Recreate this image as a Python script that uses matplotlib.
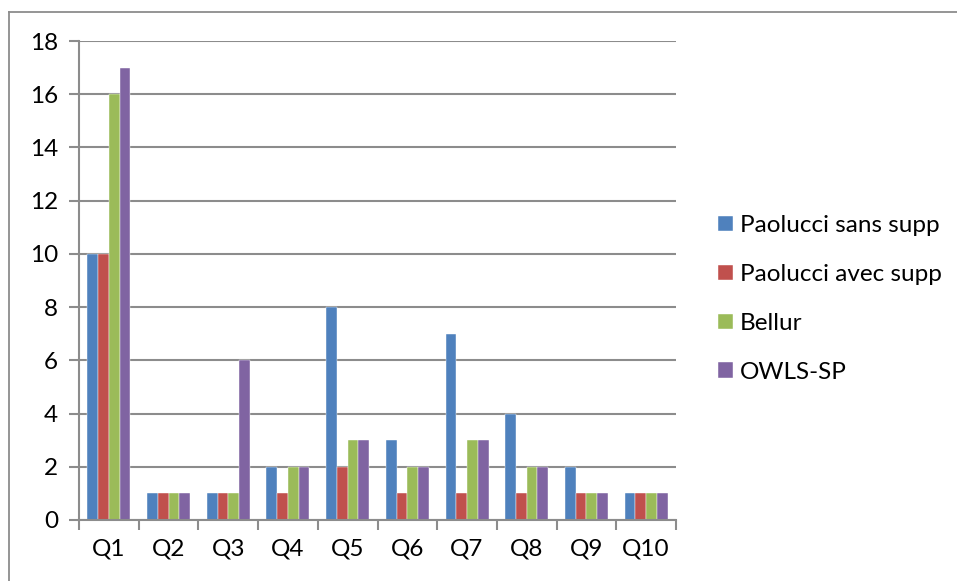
import matplotlib
matplotlib.use('Agg')
from matplotlib import pyplot as plt
from matplotlib.lines import Line2D
import numpy as np

plt.rcParams['font.family'] = ['Lato', 'DejaVu Sans']

categories = ['Q1', 'Q2', 'Q3', 'Q4', 'Q5', 'Q6', 'Q7', 'Q8', 'Q9', 'Q10']
series_names = ['Paolucci sans supp', 'Paolucci avec supp', 'Bellur', 'OWLS-SP']
paolucci_sans = [10, 1, 1, 2, 8, 3, 7, 4, 2, 1]
paolucci_avec = [10, 1, 1, 1, 2, 1, 1, 1, 1, 1]
bellur = [16, 1, 1, 2, 3, 2, 3, 2, 1, 1]
owls_sp = [17, 1, 6, 2, 3, 2, 3, 2, 1, 1]
colors = ['#4F81BD', '#C0504D', '#9BBB59', '#8064A2']

fig = plt.figure(figsize=(9.57, 5.81), dpi=100)
W, H = 957, 581
ax = fig.add_axes([79 / W, 1 - 520 / H, (676 - 79) / W, (520 - 41) / H])

x = np.arange(len(categories))
bw = 0.18
all_series = [paolucci_sans, paolucci_avec, bellur, owls_sp]
for i, (vals, name, c) in enumerate(zip(all_series, series_names, colors)):
    ax.bar(x + (i - 1.5) * bw, vals, bw, color=c, label=name,
           edgecolor='white', linewidth=0.3)

ax.set_xlim(-0.5, len(categories) - 0.5)
ax.set_ylim(0, 18)
ax.set_yticks(range(0, 19, 2))
ax.yaxis.grid(True, color='#8c8c8c', linewidth=1.5)
ax.set_axisbelow(True)
for s in ['top', 'right']:
    ax.spines[s].set_visible(False)
for s in ['left', 'bottom']:
    ax.spines[s].set_color('#8c8c8c')
    ax.spines[s].set_linewidth(1.5)

ax.set_xticks(x)
ax.set_xticklabels(categories)
ax.set_xticks(np.arange(-0.5, len(categories)), minor=True)
ax.tick_params(axis='x', which='major', length=0, pad=13, labelsize=17.5)
ax.tick_params(axis='x', which='minor', length=7, color='#8c8c8c', width=1.5)
ax.tick_params(axis='y', length=7, color='#8c8c8c', width=1.5, pad=8, labelsize=17.5)

ax.legend(loc='center left', bbox_to_anchor=(708 / W, 1 - 299 / H),
          bbox_transform=fig.transFigure, frameon=False, fontsize=17.5,
          handlelength=0.62, handleheight=0.62, handletextpad=0.3,
          labelspacing=1.15, borderaxespad=0)

# outer chart border
fig.add_artist(Line2D([9 / W, 1], [1 - 12 / H, 1 - 12 / H], color='#8c8c8c', linewidth=1.3))
fig.add_artist(Line2D([9 / W, 9 / W], [0, 1 - 12 / H], color='#8c8c8c', linewidth=1.3))

fig.savefig('out.png', dpi=100)
